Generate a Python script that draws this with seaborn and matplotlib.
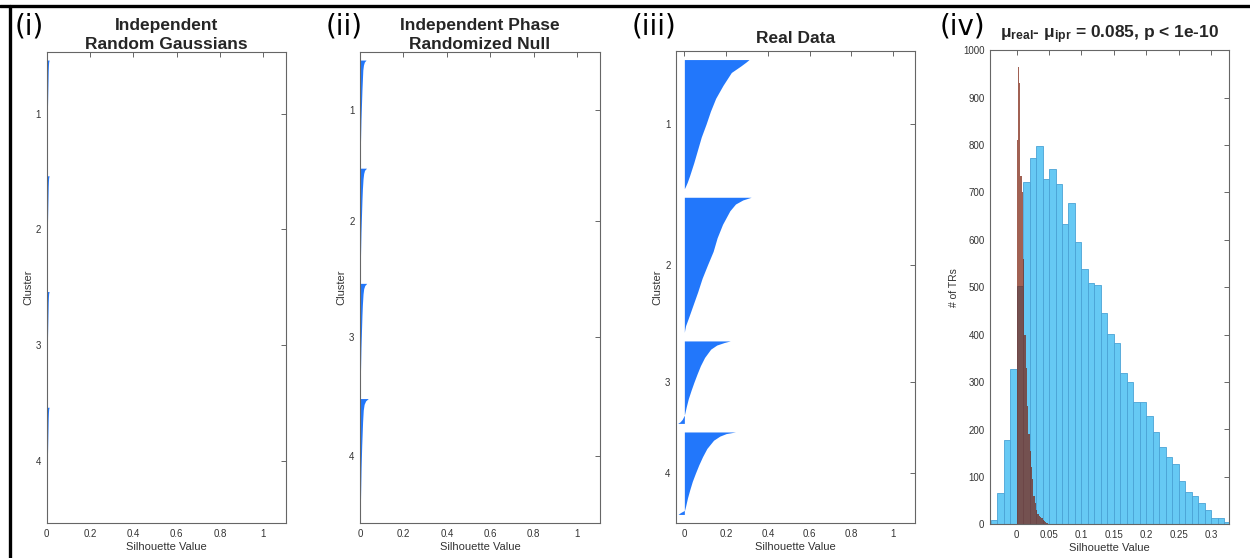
"""Silhouette comparison: null models vs real data, plus silhouette histograms."""

import matplotlib

matplotlib.use("Agg")
import matplotlib.pyplot as plt
import numpy as np
import pandas as pd
import seaborn as sns
from matplotlib.lines import Line2D

# fraction of the way down each (sorted) cluster at which the silhouette was read
ranks = [0, 0.02, 0.05, 0.1, 0.2, 0.3, 0.4, 0.5, 0.6, 0.7, 0.8, 0.9, 0.95, 0.98, 1.0]

# (i) independent random gaussians
gauss_sizes = [3144, 3144, 3144, 3144]
gauss_sil = [
    [0.011, 0.009, 0.008, 0.007, 0.006, 0.005, 0.004, 0.003, 0.002, 0.0015, 0.001, 0.0005, 0.0003, 0.0001, 0],
    [0.011, 0.009, 0.008, 0.007, 0.006, 0.005, 0.004, 0.003, 0.002, 0.0015, 0.001, 0.0005, 0.0003, 0.0001, 0],
    [0.011, 0.009, 0.008, 0.007, 0.006, 0.005, 0.004, 0.003, 0.002, 0.0015, 0.001, 0.0005, 0.0003, 0.0001, 0],
    [0.011, 0.009, 0.008, 0.007, 0.006, 0.005, 0.004, 0.003, 0.002, 0.0015, 0.001, 0.0005, 0.0003, 0.0001, 0],
]

# (ii) independent phase randomized null
null_sizes = [2921, 3128, 3128, 3400]
null_sil = [
    [0.028, 0.02, 0.016, 0.013, 0.011, 0.009, 0.0075, 0.006, 0.0045, 0.0035, 0.0025, 0.0015, 0.001, 0.0005, 0],
    [0.030, 0.021, 0.017, 0.014, 0.011, 0.009, 0.0075, 0.006, 0.0045, 0.0035, 0.0025, 0.0015, 0.001, 0.0005, 0],
    [0.031, 0.022, 0.017, 0.014, 0.011, 0.009, 0.0075, 0.006, 0.0045, 0.0035, 0.0025, 0.0015, 0.001, 0.0005, 0],
    [0.038, 0.026, 0.019, 0.015, 0.012, 0.010, 0.008, 0.0065, 0.005, 0.004, 0.003, 0.002, 0.001, 0.0005, 0],
]

# (iii) real data
real_sizes = [3785, 3960, 2417, 2417]
real_sil = [
    [0.31, 0.295, 0.27, 0.225, 0.185, 0.15, 0.125, 0.104, 0.081, 0.063, 0.045, 0.025, 0.014, 0.006, 0.0],
    [0.32, 0.28, 0.245, 0.218, 0.183, 0.157, 0.138, 0.111, 0.085, 0.064, 0.041, 0.018, 0.006, 0.002, 0.0],
    [0.22, 0.19, 0.155, 0.126, 0.097, 0.077, 0.061, 0.046, 0.032, 0.019, 0.009, 0.0, -0.01, -0.02, -0.032],
    [0.245, 0.20, 0.17, 0.14, 0.108, 0.087, 0.069, 0.053, 0.038, 0.026, 0.015, 0.006, 0.001, -0.02, -0.03],
]

# (iv) histograms of silhouette values per TR
real_bin_start, real_bin_width = -0.04, 0.01
real_counts = [9, 66, 177, 327, 502, 723, 772, 798, 729, 749, 717, 633, 677, 596, 539,
               510, 504, 446, 402, 383, 320, 301, 258, 258, 228, 194, 164, 143, 127,
               92, 69, 60, 45, 30, 13, 13, 4]
ipr_bin_start, ipr_bin_width = 0.0, 0.002
ipr_counts = [810, 965, 930, 735, 700, 560, 400, 330, 250, 190, 155, 120, 95, 60,
              45, 30, 22, 18, 15, 13, 9, 6, 5, 2]

SIL_BLUE = "#2277fb"
HIST_BLUE = "#66c9f4"
HIST_EDGE = "#4aa3d6"
IPR_RED = "#7a1e0a"
SPINE = "#666666"
TEXT = "#333333"

sns.set_theme(style="white")
plt.rcParams["font.family"] = ["Liberation Sans", "DejaVu Sans"]
plt.rcParams["mathtext.fontset"] = "custom"
plt.rcParams["mathtext.rm"] = "Liberation Sans"
plt.rcParams["mathtext.bf"] = "Liberation Sans:bold"
plt.rcParams["mathtext.it"] = "Liberation Sans:italic"


def style_axes(ax):
    for side in ax.spines.values():
        side.set_color(SPINE)
        side.set_linewidth(0.8)
    ax.tick_params(direction="in", top=True, right=True, length=3.5, width=0.7,
                   color=SPINE, labelsize=7, labelcolor=TEXT, pad=4)


def plot_silhouette(ax, sizes, profiles, title, xmin, pad):
    n = sum(sizes)
    space = max(int(0.02 * n), 2)
    pos = space
    centers = []
    for size, prof in zip(sizes, profiles):
        y = pos + np.array(ranks) * size
        ax.fill_betweenx(y, 0, prof, color=SIL_BLUE, linewidth=0)
        centers.append(pos + size / 2)
        pos += size + space
    ax.set_ylim(pos, 0)
    ax.set_xlim(xmin, 1.105)
    ax.set_xticks([0, 0.2, 0.4, 0.6, 0.8, 1.0])
    ax.set_xticklabels(["0", "0.2", "0.4", "0.6", "0.8", "1"])
    ax.set_yticks(centers)
    ax.set_yticklabels([str(i + 1) for i in range(len(sizes))])
    ax.set_xlabel("Silhouette Value", fontsize=8, color=TEXT, labelpad=2.5)
    ax.set_ylabel("Cluster", fontsize=8, color=TEXT, labelpad=2)
    ax.set_title(title, fontsize=12.5, fontweight="bold", pad=pad, linespacing=1.3)
    style_axes(ax)


def hist_frame(start, width, counts):
    edges = start + width * np.arange(len(counts) + 1)
    frame = pd.DataFrame({"value": edges[:-1] + width / 2, "count": counts})
    return frame, [float(e) for e in edges]


fig = plt.figure(figsize=(12.5, 5.58), dpi=100)
W, H = 1250, 558


def px_axes(left, top, right, bottom):
    return fig.add_axes([left / W, 1 - bottom / H, (right - left) / W, (bottom - top) / H])


ax1 = px_axes(46.7, 51.5, 286, 523)
ax2 = px_axes(360, 51.5, 600, 523)
ax3 = px_axes(676, 51, 915, 523)
ax4 = px_axes(990, 50.3, 1228.7, 524.3)

plot_silhouette(ax1, gauss_sizes, gauss_sil, "Independent\nRandom Gaussians", 0.0, 2)
plot_silhouette(ax2, null_sizes, null_sil, "Independent Phase\nRandomized Null", 0.0, 2)
plot_silhouette(ax3, real_sizes, real_sil, "Real Data", -0.04, 6)

real_df, real_edges = hist_frame(real_bin_start, real_bin_width, real_counts)
ipr_df, ipr_edges = hist_frame(ipr_bin_start, ipr_bin_width, ipr_counts)
sns.histplot(data=real_df, x="value", weights="count", bins=real_edges, ax=ax4,
             color=HIST_BLUE, alpha=1.0, edgecolor=HIST_EDGE, linewidth=0.6)
sns.histplot(data=ipr_df, x="value", weights="count", bins=ipr_edges, ax=ax4,
             color=IPR_RED, alpha=0.7, linewidth=0)
ax4.set_xlim(-0.041, 0.327)
ax4.set_ylim(0, 1000)
ax4.set_xticks([0, 0.05, 0.1, 0.15, 0.2, 0.25, 0.3])
ax4.set_xticklabels(["0", "0.05", "0.1", "0.15", "0.2", "0.25", "0.3"])
ax4.set_yticks(range(0, 1001, 100))
ax4.set_xlabel("Silhouette Value", fontsize=8, color=TEXT, labelpad=2.5)
ax4.set_ylabel("# of TRs", fontsize=7.5, color=TEXT, labelpad=3)
ax4.set_title(r"μ$_{\mathbf{real}}$- μ$_{\mathbf{ipr}}$ = 0.085, p < 1e-10",
              fontsize=12.5, fontweight="bold", pad=9)
style_axes(ax4)

for label, x in [("(i)", 15), ("(ii)", 326), ("(iii)", 632), ("(iv)", 940)]:
    fig.text(x / W, 1 - 26 / H, label, fontsize=20, family="DejaVu Sans",
             ha="left", va="center", color="black")

# outer frame of the composite figure (top and left edges only)
fig.add_artist(Line2D([0, 1], [1 - 6 / H, 1 - 6 / H], color="black", lw=2.4,
                      transform=fig.transFigure))
fig.add_artist(Line2D([9.5 / W, 9.5 / W], [0, 1 - 6 / H], color="black", lw=2.4,
                      transform=fig.transFigure))

fig.savefig("out.png", dpi=100, facecolor="white")
